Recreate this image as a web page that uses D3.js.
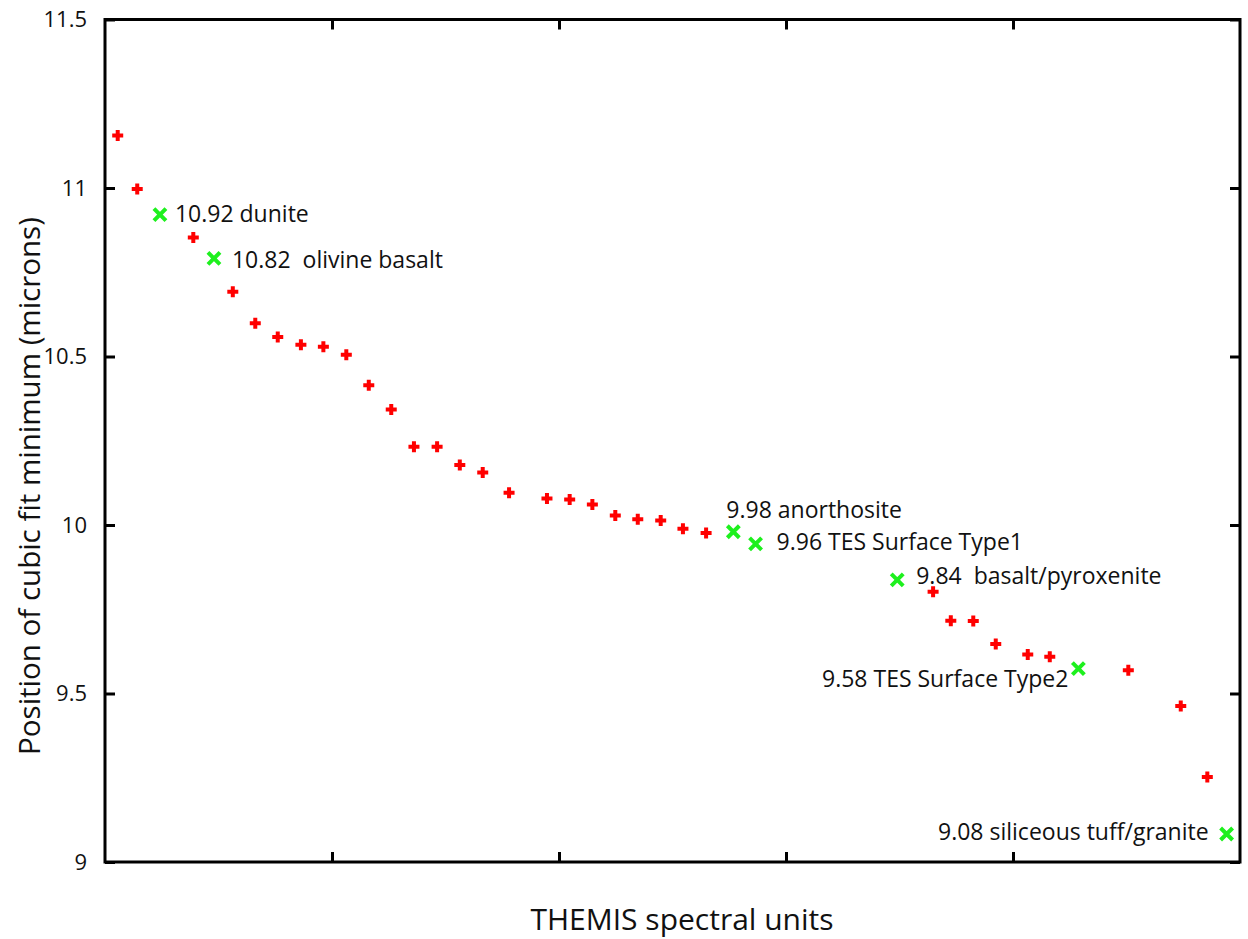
<!DOCTYPE html>
<html>
<head>
<meta charset="utf-8">
<script src="https://cdn.jsdelivr.net/npm/d3@7"></script>
<style>
  html, body { margin: 0; padding: 0; background: #fff; }
  svg { display: block; font-family: "Open Sans", "Noto Sans", sans-serif; }
</style>
</head>
<body>
<svg id="chart" width="1248" height="939"></svg>
<script>
// ---- data ----
const redX = [0.56, 1.42, 3.89, 5.63, 6.62, 7.61, 8.63, 9.62, 10.63, 11.62, 12.61,
              13.61, 14.63, 15.63, 16.64, 17.80, 19.47, 20.47, 21.47, 22.48, 23.47,
              24.48, 25.46, 26.48, 36.48, 37.26, 38.25, 39.24, 40.65, 41.62, 45.08,
              47.39, 48.56];
const redY = [11.156, 10.997, 10.853, 10.692, 10.599, 10.558, 10.535, 10.529, 10.505, 10.415, 10.343,
              10.232, 10.232, 10.178, 10.156, 10.096, 10.079, 10.076, 10.061, 10.028, 10.017,
              10.013, 9.989, 9.976, 9.802, 9.716, 9.715, 9.647, 9.616, 9.609, 9.569,
              9.463, 9.252];
const greenX = [2.42, 4.80, 27.68, 28.66, 34.90, 42.88, 49.41];
const greenY = [10.921, 10.791, 9.980, 9.944, 9.837, 9.574, 9.083];
const greenLabels = ["10.92 dunite", "10.82\u00a0 olivine basalt", "9.98 anorthosite",
                     "9.96 TES Surface Type1", "9.84\u00a0 basalt/pyroxenite",
                     "9.58 TES Surface Type2", "9.08 siliceous tuff/granite"];
const yTicks = [9, 9.5, 10, 10.5, 11, 11.5];
const yTickLabels = ["9", "9.5", "10", "10.5", "11", "11.5"];
const xTicks = [10, 20, 30, 40];
const xTitle = "THEMIS spectral units";
const yTitle = "Position of cubic fit minimum (microns)";

// label placement relative to each green marker (layout, not data)
const labelLayout = [
  {dx: 15, dy: 7, anchor: "start"},
  {dx: 18, dy: 10, anchor: "start"},
  {dx: -7, dy: -14, anchor: "start"},
  {dx: 21, dy: 6, anchor: "start"},
  {dx: 19, dy: 4, anchor: "start"},
  {dx: -10, dy: 18, anchor: "end"},
  {dx: -18, dy: 6, anchor: "end"}
];

// ---- layout ----
const mLeft = 105, mRight = 1240, mTop = 19.5, mBottom = 862;
const svg = d3.select("#chart");

const x = d3.scaleLinear().domain([0, 50]).range([mLeft, mRight]);
const y = d3.scaleLinear().domain([9, 11.5]).range([mBottom, mTop]);

const tickLen = 10, axisW = 3;

// axes with inward ticks
const gL = svg.append("g").attr("transform", `translate(${mLeft},0)`)
  .call(d3.axisLeft(y).tickValues(yTicks).tickFormat((d, i) => yTickLabels[i])
        .tickSizeInner(-tickLen).tickSizeOuter(0).tickPadding(18));
const gR = svg.append("g").attr("transform", `translate(${mRight},0)`)
  .call(d3.axisRight(y).tickValues(yTicks).tickFormat("")
        .tickSizeInner(-tickLen).tickSizeOuter(0));
const gB = svg.append("g").attr("transform", `translate(0,${mBottom})`)
  .call(d3.axisBottom(x).tickValues(xTicks).tickFormat("")
        .tickSizeInner(-tickLen).tickSizeOuter(0));
const gT = svg.append("g").attr("transform", `translate(0,${mTop})`)
  .call(d3.axisTop(x).tickValues(xTicks).tickFormat("")
        .tickSizeInner(-tickLen).tickSizeOuter(0));

[gL, gR, gB, gT].forEach(g => {
  g.select(".domain").remove();
  g.selectAll(".tick line").attr("stroke", "#000").attr("stroke-width", axisW);
});
gL.selectAll(".tick text").attr("font-size", 22).attr("fill", "#111")
  .attr("font-family", "Open Sans");

// frame
svg.append("rect").attr("x", mLeft).attr("y", mTop)
  .attr("width", mRight - mLeft).attr("height", mBottom - mTop)
  .attr("fill", "none").attr("stroke", "#000").attr("stroke-width", axisW);

// red plus markers
const redData = redX.map((d, i) => ({x: d, y: redY[i]}));
const plusSize = 5.5;
svg.append("g").selectAll("path").data(redData).join("path")
  .attr("d", d => {
    const cx = x(d.x), cy = y(d.y);
    return `M${cx - plusSize},${cy}H${cx + plusSize}M${cx},${cy - plusSize}V${cy + plusSize}`;
  })
  .attr("stroke", "#ff0000").attr("stroke-width", 4).attr("fill", "none");

// green x markers
const greenData = greenX.map((d, i) => ({x: d, y: greenY[i], label: greenLabels[i], lay: labelLayout[i]}));
const xs = 6;
svg.append("g").selectAll("path").data(greenData).join("path")
  .attr("d", d => {
    const cx = x(d.x), cy = y(d.y);
    return `M${cx - xs},${cy - xs}L${cx + xs},${cy + xs}M${cx - xs},${cy + xs}L${cx + xs},${cy - xs}`;
  })
  .attr("stroke", "#1ef01e").attr("stroke-width", 4).attr("fill", "none");

// labels
svg.append("g").selectAll("text").data(greenData).join("text")
  .attr("x", d => x(d.x) + d.lay.dx)
  .attr("y", d => y(d.y) + d.lay.dy)
  .attr("text-anchor", d => d.lay.anchor)
  .attr("font-size", 23).attr("fill", "#111")
  .text(d => d.label);

// axis titles
svg.append("text")
  .attr("x", 682).attr("y", 930)
  .attr("text-anchor", "middle").attr("font-size", 30).attr("fill", "#111")
  .text(xTitle);
svg.append("text")
  .attr("transform", `translate(40,486) rotate(-90)`)
  .attr("text-anchor", "middle").attr("font-size", 29.5).attr("fill", "#111")
  .text(yTitle);
</script>
</body>
</html>
